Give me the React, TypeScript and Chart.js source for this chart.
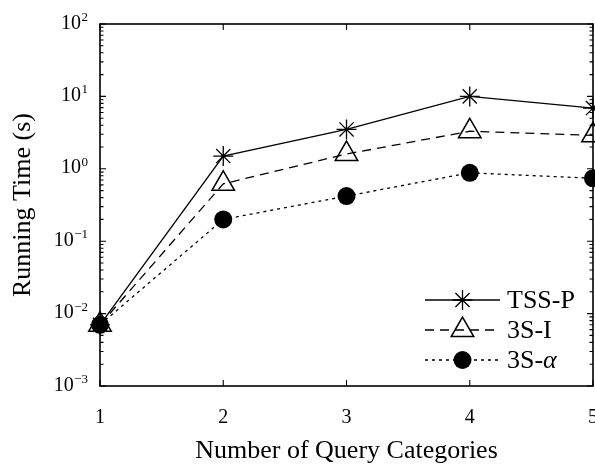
import { useEffect, useRef } from "react";
import { Chart, registerables } from "chart.js";

Chart.register(...registerables);

// Number of query categories on the x axis
const categories = [1, 2, 3, 4, 5];
// Running time in seconds for each method
const tssP = [0.007, 1.5, 3.5, 10, 6.9];
const threeSI = [0.007, 0.62, 1.6, 3.3, 2.9];
const threeSAlpha = [0.007, 0.2, 0.42, 0.88, 0.74];
const seriesNames = ["TSS-P", "3S-I", "3S-\u03b1"];
// Decade exponents for the log axis and x tick labels
const yExponents = [-3, -2, -1, 0, 1, 2];
const xTickLabels = ["1", "2", "3", "4", "5"];

const FONT = '"Liberation Serif", "Times New Roman", serif';
const DASHED = [9, 6];
const DOTTED = [3, 4];

const toPoints = (vals: number[]) => categories.map((c, i) => ({ x: c, y: vals[i] }));

function drawMarker(ctx: CanvasRenderingContext2D, style: string, x: number, y: number) {
  ctx.save();
  ctx.setLineDash([]);
  ctx.strokeStyle = "#000";
  ctx.fillStyle = "#000";
  ctx.beginPath();
  if (style === "star") {
    const r = 10;
    ctx.lineWidth = 1.3;
    for (let k = 0; k < 4; k++) {
      const a = (k * Math.PI) / 4;
      ctx.moveTo(x - Math.cos(a) * r, y - Math.sin(a) * r);
      ctx.lineTo(x + Math.cos(a) * r, y + Math.sin(a) * r);
    }
    ctx.stroke();
  } else if (style === "triangle") {
    const r = 13;
    ctx.lineWidth = 1.5;
    for (let k = 0; k < 3; k++) {
      const a = (k * 2 * Math.PI) / 3;
      const px = x + Math.sin(a) * r;
      const py = y - Math.cos(a) * r;
      if (k === 0) ctx.moveTo(px, py);
      else ctx.lineTo(px, py);
    }
    ctx.closePath();
    ctx.stroke();
  } else {
    ctx.arc(x, y, 9, 0, Math.PI * 2);
    ctx.fill();
  }
  ctx.restore();
}

// Writes a legend name; a trailing Greek letter is set in italic like a math symbol
function drawName(ctx: CanvasRenderingContext2D, name: string, x: number, y: number) {
  const greek = /[\u0370-\u03ff]$/.test(name);
  const head = greek ? name.slice(0, -1) : name;
  ctx.font = `26px ${FONT}`;
  ctx.fillText(head, x, y);
  if (greek) {
    const w = ctx.measureText(head).width;
    ctx.font = `italic 26px ${FONT}`;
    ctx.fillText(name.slice(-1), x + w, y);
  }
}

const framePlugin = {
  id: "frameAndLabels",
  beforeDatasetsDraw(chart: any) {
    const { ctx, chartArea: a, scales } = chart;
    const xs = scales.x;
    const ys = scales.y;
    ctx.save();
    ctx.strokeStyle = "#000";
    ctx.lineWidth = 1.6;
    ctx.strokeRect(a.left, a.top, a.right - a.left, a.bottom - a.top);

    // inward tick marks on all four sides
    ctx.lineWidth = 1.1;
    ctx.beginPath();
    yExponents.forEach((e, i) => {
      const py = ys.getPixelForValue(Math.pow(10, e));
      ctx.moveTo(a.left, py);
      ctx.lineTo(a.left + 6, py);
      ctx.moveTo(a.right, py);
      ctx.lineTo(a.right - 6, py);
      if (i < yExponents.length - 1) {
        for (let k = 2; k <= 9; k++) {
          const pm = ys.getPixelForValue(k * Math.pow(10, e));
          ctx.moveTo(a.left, pm);
          ctx.lineTo(a.left + 3.5, pm);
          ctx.moveTo(a.right, pm);
          ctx.lineTo(a.right - 3.5, pm);
        }
      }
    });
    categories.forEach((c) => {
      const px = xs.getPixelForValue(c);
      ctx.moveTo(px, a.bottom);
      ctx.lineTo(px, a.bottom - 6);
      ctx.moveTo(px, a.top);
      ctx.lineTo(px, a.top + 6);
    });
    ctx.stroke();

    // y tick labels: 10 with a raised exponent
    ctx.fillStyle = "#000";
    ctx.textBaseline = "alphabetic";
    yExponents.forEach((e) => {
      const py = ys.getPixelForValue(Math.pow(10, e));
      const expText = e < 0 ? "\u2212" + String(-e) : String(e);
      ctx.font = `13px ${FONT}`;
      const wExp = ctx.measureText(expText).width;
      const rightEdge = a.left - 12;
      ctx.textAlign = "left";
      ctx.fillText(expText, rightEdge - wExp, py - 3);
      ctx.font = `20px ${FONT}`;
      ctx.textAlign = "right";
      ctx.fillText("10", rightEdge - wExp - 0.5, py + 4.5);
    });

    // x tick labels
    ctx.font = `20px ${FONT}`;
    ctx.textAlign = "center";
    categories.forEach((c, i) => {
      ctx.fillText(xTickLabels[i], xs.getPixelForValue(c), a.bottom + 37);
    });

    // axis titles
    ctx.font = `26px ${FONT}`;
    ctx.fillText("Number of Query Categories", (a.left + a.right) / 2, a.bottom + 72);
    ctx.save();
    ctx.translate(30, (a.top + a.bottom) / 2);
    ctx.rotate(-Math.PI / 2);
    ctx.fillText("Running Time (s)", 0, 0);
    ctx.restore();
    ctx.restore();
  },
  afterDatasetsDraw(chart: any) {
    const { ctx } = chart;
    const styles = ["star", "triangle", "circle"];
    const dashes = [[], DASHED, DOTTED];
    const rowY = [300, 330, 360];
    ctx.save();
    seriesNames.forEach((name, i) => {
      const y = rowY[i];
      ctx.strokeStyle = "#000";
      ctx.lineWidth = 1.3;
      ctx.setLineDash(dashes[i]);
      ctx.beginPath();
      ctx.moveTo(425, y);
      ctx.lineTo(500, y);
      ctx.stroke();
      drawMarker(ctx, styles[i], 462.5, y);
      ctx.setLineDash([]);
      ctx.fillStyle = "#000";
      ctx.textAlign = "left";
      ctx.textBaseline = "alphabetic";
      drawName(ctx, name, 507, y + 8);
    });
    ctx.restore();
  },
};

export default function App() {
  const canvasRef = useRef<HTMLCanvasElement | null>(null);

  useEffect(() => {
    const canvas = canvasRef.current;
    if (!canvas) return;
    const chart = new Chart(canvas, {
      type: "line",
      data: {
        datasets: [
          {
            label: seriesNames[0],
            data: toPoints(tssP),
            borderColor: "#000",
            borderWidth: 1.3,
            pointStyle: "star",
            pointRadius: 10,
            pointBorderWidth: 1.3,
            pointBorderColor: "#000",
            pointBackgroundColor: "rgba(0,0,0,0)",
            clip: false,
          },
          {
            label: seriesNames[1],
            data: toPoints(threeSI),
            borderColor: "#000",
            borderWidth: 1.3,
            borderDash: DASHED,
            pointStyle: "triangle",
            pointRadius: 13,
            pointBorderWidth: 1.5,
            pointBorderColor: "#000",
            pointBackgroundColor: "rgba(0,0,0,0)",
            clip: false,
          },
          {
            label: seriesNames[2],
            data: toPoints(threeSAlpha),
            borderColor: "#000",
            borderWidth: 1.3,
            borderDash: DOTTED,
            pointStyle: "circle",
            pointRadius: 9,
            pointBorderWidth: 0,
            pointBackgroundColor: "#000",
            clip: false,
          },
        ],
      },
      options: {
        responsive: false,
        animation: false,
        events: [],
        layout: { autoPadding: false, padding: { left: 100, right: 2, top: 24, bottom: 78 } },
        plugins: { legend: { display: false }, tooltip: { enabled: false } },
        scales: {
          x: { type: "linear", min: 1, max: 5, display: false },
          y: { type: "logarithmic", min: 0.001, max: 100, display: false },
        },
      },
      plugins: [framePlugin],
    });
    return () => chart.destroy();
  }, []);

  return (
    <div style={{ position: "fixed", left: 0, top: 0, width: 595, height: 464, background: "#fff" }}>
      <canvas ref={canvasRef} width={595} height={464} />
    </div>
  );
}
